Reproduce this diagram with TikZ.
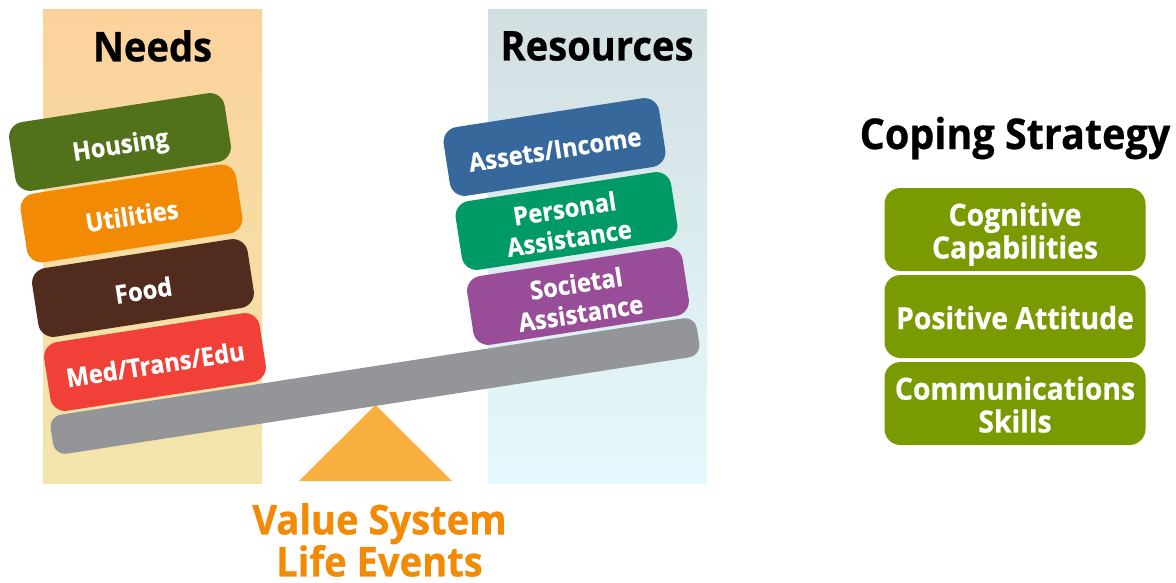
\documentclass[tikz,border=0pt]{standalone}
\usepackage{fontspec}
\setmainfont{Open Sans}[BoldFont={Open Sans Bold},BoldFeatures={FakeStretch=0.93,FakeBold=0.6}]
\definecolor{hou}{HTML}{52711B}
\definecolor{uti}{HTML}{F28A03}
\definecolor{foo}{HTML}{502B1E}
\definecolor{med}{HTML}{F14038}
\definecolor{ass}{HTML}{36689C}
\definecolor{per}{HTML}{009A66}
\definecolor{soc}{HTML}{994C97}
\definecolor{bea}{HTML}{939598}
\definecolor{tri}{HTML}{F9AE40}
\definecolor{cop}{HTML}{7A9A01}
\definecolor{needtop}{HTML}{FCD29B}
\definecolor{needbot}{HTML}{F2E6AE}
\definecolor{restop}{HTML}{D2DFE1}
\definecolor{resbot}{HTML}{E4F9FD}
\newcommand\dn[1]{\raisebox{-12pt}[0pt][0pt]{\begin{tabular}{@{}c@{}}#1\end{tabular}}}
\tikzset{
  tilted/.style={rectangle,rounded corners=15pt,minimum width=218pt,minimum height=69.5pt,rotate=8.8,inner sep=0pt,align=center,text=white,font=\fontsize{25.6}{30}\selectfont\bfseries},
  copbox/.style={rectangle,rounded corners=16pt,minimum width=261pt,minimum height=83pt,inner sep=0pt,align=center,text=white,fill=cop,font=\fontsize{30.5}{32}\selectfont\bfseries},
  head/.style={inner sep=0pt,font=\fontsize{41}{44}\selectfont\bfseries}
}
\begin{document}
\begin{tikzpicture}[x=1pt,y=-1pt]
\useasboundingbox (0,0) rectangle (1176,582);
\fill[white] (0,0) rectangle (1176,582);
\shade[top color=needtop,bottom color=needbot] (43,9) rectangle (262,483);
\shade[top color=restop,bottom color=resbot] (488,9) rectangle (707,483);
\fill[tri] (375.5,405) -- (452,481) -- (299,481) -- cycle;
\node[tilted,fill=bea,minimum width=654pt,minimum height=39.5pt,rounded corners=12pt] (beam) at (375,386) {};
\node[tilted,fill=hou] (housing) at (120,142) {\dn{Housing}};
\node[tilted,fill=uti] (utilities) at (131.5,213.5) {\dn{Utilities}};
\node[tilted,fill=foo] (food) at (143,288) {\dn{Food}};
\node[tilted,fill=med] (medtrans) at (155,362) {\dn{Med/Trans/Edu}};
\node[tilted,fill=ass] (assets) at (554.5,147) {\dn{Assets/Income}};
\node[tilted,fill=per] (personal) at (566.5,221) {\dn{Personal\\Assistance}};
\node[tilted,fill=soc] (societal) at (578,296) {\dn{Societal\\Assistance}};
\node[head] (needs) at (152.5,46) {Needs};
\node[head] (resources) at (597,46) {Resources};
\node[head,font=\fontsize{42.5}{44}\selectfont\bfseries] (coping) at (1015,138) {Coping Strategy};
\node[copbox] (cognitive) at (1015,229.5) {\dn{Cognitive\\Capabilities}};
\node[copbox] (positive) at (1015,316.5) {\dn{Positive Attitude}};
\node[copbox] (communications) at (1015,403.5) {\dn{Communications\\Skills}};
\node[inner sep=0pt,align=center,text=uti,font=\fontsize{41}{42}\selectfont\bfseries] (value) at (379.5,540) {Value System\\Life Events};
\end{tikzpicture}
\end{document}
